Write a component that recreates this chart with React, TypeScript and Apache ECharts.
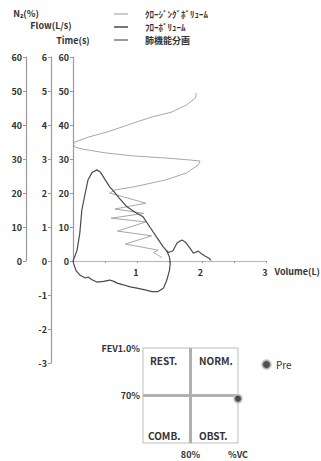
import React, { useEffect, useRef } from "react";
import * as echarts from "echarts";

// Flow-volume curve, expiration (volume L, flow L/s)
const flowExpiration: number[][] = [
  [0, 0], [0.02, 0.1], [0.06, 0.32], [0.1, 0.82], [0.13, 1.5], [0.18, 2.0], [0.22, 2.38],
  [0.28, 2.6], [0.35, 2.68], [0.4, 2.62], [0.47, 2.4], [0.54, 2.18], [0.6, 2.05], [0.68, 1.85],
  [0.79, 1.6], [0.9, 1.45], [1.03, 1.3], [1.13, 1.0], [1.23, 0.7], [1.33, 0.41], [1.4, 0.25],
  [1.47, 0.3], [1.53, 0.53], [1.6, 0.62], [1.65, 0.56], [1.72, 0.38], [1.77, 0.23], [1.84, 0.29],
  [1.9, 0.2], [1.94, 0.15], [2.0, 0.08], [2.03, 0.02],
];
// Flow-volume curve, inspiration
const flowInspiration: number[][] = [
  [1.38, 0.3], [1.42, 0.1], [1.43, -0.05], [1.42, -0.26], [1.38, -0.56], [1.33, -0.8],
  [1.25, -0.9], [1.16, -0.9], [1.06, -0.85], [0.94, -0.8], [0.84, -0.76], [0.74, -0.7],
  [0.65, -0.65], [0.6, -0.6], [0.54, -0.56], [0.45, -0.6], [0.35, -0.62], [0.28, -0.55],
  [0.22, -0.47], [0.18, -0.5], [0.1, -0.41], [0.05, -0.3], [0.03, -0.2], [0.01, -0.08], [0, 0],
];
// Closing volume curve (volume L, N2 %)
const closingVolume: number[][] = [
  [1.38, 1.0], [1.25, 2.5], [1.32, 3.2], [0.81, 5.0], [1.22, 7.4], [0.69, 8.8], [1.13, 11.5],
  [0.59, 12.6], [1.1, 14.0], [0.65, 15.3], [1.13, 17.0], [0.57, 20.0], [0.65, 20.9],
  [0.94, 21.8], [1.43, 23.8], [1.76, 25.9], [1.94, 28.2], [1.97, 29.4], [1.82, 29.7],
  [1.43, 30.3], [0.94, 30.9], [0.5, 31.8], [0.15, 32.9], [0.03, 33.5], [0.01, 34.3],
  [0.03, 35.0], [0.25, 36.5], [0.54, 38.0], [0.94, 40.6], [1.23, 42.4], [1.53, 43.8],
  [1.76, 45.9], [1.9, 48.0], [1.91, 49.4],
];
// Pulmonary function classification point (%VC, FEV1.0%)
const prePoint: number[][] = [[120, 68]];

const legendNames = ["ｸﾛｰｼﾞﾝｸﾞﾎﾞﾘｭｰﾑ", "ﾌﾛｰﾎﾞﾘｭｰﾑ", "肺機能分画"];
const quadrantLabels = ["REST.", "NORM.", "COMB.", "OBST."];

const FONT = "'Noto Sans CJK JP', 'Noto Sans', sans-serif";
const AXIS_COLOR = "#9a9a9a";
const TEXT_COLOR = "#333";

export default function App() {
  const ref = useRef<HTMLDivElement>(null);
  useEffect(() => {
    if (!ref.current) return;
    const chart = echarts.init(ref.current, null, { renderer: "svg" });
    const labelStyle = { color: TEXT_COLOR, fontSize: 9, fontFamily: FONT, fontWeight: "bold" as const };
    const yCommon = (offset: number, name: string, nameGap: number, min: number, max: number, interval: number, grid: number) => ({
      type: "value",
      gridIndex: grid,
      position: "left",
      offset,
      min,
      max,
      interval,
      name,
      nameLocation: "end",
      nameGap,
      nameTextStyle: { ...labelStyle, align: "center" },
      axisLine: { show: true, onZero: false, lineStyle: { color: AXIS_COLOR, width: 1.2 } },
      axisTick: { show: true, length: 3, lineStyle: { color: AXIS_COLOR } },
      axisLabel: { ...labelStyle, margin: 4 },
      splitLine: { show: false },
    });
    const option: any = {
      animation: false,
      backgroundColor: "#fff",
      textStyle: { fontFamily: FONT },
      legend: [
        {
          orient: "vertical",
          left: 109,
          top: 3,
          itemWidth: 14,
          itemHeight: 1.5,
          itemGap: 1,
          icon: "rect",
          data: legendNames,
          textStyle: { ...labelStyle, fontSize: 9, padding: [0, 0, 0, 12], lineHeight: 12 },
          selectedMode: false,
        },
        {
          left: 256,
          top: 354,
          itemWidth: 9,
          itemHeight: 9,
          data: [{ name: "Pre", icon: "circle" }],
          itemStyle: { color: "#222", borderColor: "#c8c8c8", borderWidth: 2 },
          textStyle: { ...labelStyle, fontSize: 10, fontWeight: "normal" },
          selectedMode: false,
        },
      ],
      grid: [
        { left: 73, top: 57, width: 204, height: 306 },
        { left: 73, top: 57, width: 204, height: 204 },
        { left: 143, top: 348, width: 95, height: 95, show: true, borderColor: "#bdbdbd", borderWidth: 1 },
      ],
      xAxis: [
        { type: "value", gridIndex: 0, min: 0, max: 3, show: false },
        {
          type: "value",
          gridIndex: 1,
          min: 0,
          max: 3,
          interval: 0.5,
          name: "Volume(L)",
          nameLocation: "end",
          nameGap: 8,
          nameTextStyle: { ...labelStyle, verticalAlign: "top", padding: [6, 0, 0, 0] },
          axisLine: { show: true, onZero: false, lineStyle: { color: "#b5b5b5", width: 1 } },
          axisTick: { show: true, length: 2, lineStyle: { color: AXIS_COLOR } },
          axisLabel: {
            ...labelStyle,
            margin: 7,
            padding: [0, 3, 0, 0],
            formatter: (v: number) => (v > 0 && Number.isInteger(v) ? String(v) : ""),
          },
          splitLine: { show: false },
        },
        {
          type: "value",
          gridIndex: 2,
          min: 40,
          max: 120,
          interval: 40,
          axisLine: { show: false },
          axisTick: { show: false },
          splitLine: { show: false },
          axisLabel: {
            ...labelStyle,
            margin: 7,
            formatter: (v: number) => (v === 80 ? "80%" : v === 120 ? "%VC" : ""),
          },
        },
      ],
      yAxis: [
        yCommon(22, "Flow(L/s)", 27, -3, 6, 1, 0),
        yCommon(47, "N₂(%)", 39, 0, 60, 10, 1),
        yCommon(0, "Time(s)", 12, 0, 60, 10, 1),
        {
          type: "value",
          gridIndex: 2,
          min: 40,
          max: 100,
          interval: 30,
          axisLine: { show: false },
          axisTick: { show: false },
          splitLine: { show: false },
          axisLabel: {
            ...labelStyle,
            margin: 3,
            formatter: (v: number) => (v === 70 ? "70%" : v === 100 ? "FEV1.0%" : ""),
          },
        },
      ],
      series: [
        {
          name: legendNames[0],
          type: "line",
          xAxisIndex: 1,
          yAxisIndex: 1,
          data: closingVolume,
          symbol: "none",
          lineStyle: { color: "#a8a8a8", width: 1 },
          itemStyle: { color: "#bdbdbd" },
        },
        {
          name: legendNames[1],
          type: "line",
          xAxisIndex: 0,
          yAxisIndex: 0,
          data: flowExpiration,
          symbol: "none",
          lineStyle: { color: "#4a4a4a", width: 1.2 },
          itemStyle: { color: "#4a4a4a" },
        },
        {
          name: legendNames[1],
          type: "line",
          xAxisIndex: 0,
          yAxisIndex: 0,
          data: flowInspiration,
          symbol: "none",
          lineStyle: { color: "#4a4a4a", width: 1.2 },
          itemStyle: { color: "#4a4a4a" },
        },
        {
          name: legendNames[2],
          type: "line",
          xAxisIndex: 2,
          yAxisIndex: 3,
          data: [],
          symbol: "none",
          lineStyle: { color: "#7a7a7a", width: 1.2 },
          itemStyle: { color: "#7a7a7a" },
          markLine: {
            silent: true,
            symbol: "none",
            label: { show: false },
            lineStyle: { color: "#b0b0b0", width: 3, type: "solid" },
            data: [{ xAxis: 80 }, { yAxis: 70 }],
          },
        },
        {
          name: "Pre",
          type: "scatter",
          xAxisIndex: 2,
          yAxisIndex: 3,
          data: prePoint,
          clip: false,
          symbolSize: 8,
          itemStyle: { color: "#222", borderColor: "#c8c8c8", borderWidth: 2 },
          z: 5,
        },
      ],
      graphic: [
        { type: "text", left: 150, top: 355, style: { text: quadrantLabels[0], font: `bold 10px ${FONT}`, fill: TEXT_COLOR } },
        { type: "text", left: 199, top: 355, style: { text: quadrantLabels[1], font: `bold 10px ${FONT}`, fill: TEXT_COLOR } },
        { type: "text", left: 148, top: 430, style: { text: quadrantLabels[2], font: `bold 10px ${FONT}`, fill: TEXT_COLOR } },
        { type: "text", left: 199, top: 430, style: { text: quadrantLabels[3], font: `bold 10px ${FONT}`, fill: TEXT_COLOR } },
      ],
    };
    chart.setOption(option);
    return () => chart.dispose();
  }, []);
  return <div ref={ref} style={{ position: "absolute", left: 0, top: 0, width: 321, height: 461 }} />;
}
